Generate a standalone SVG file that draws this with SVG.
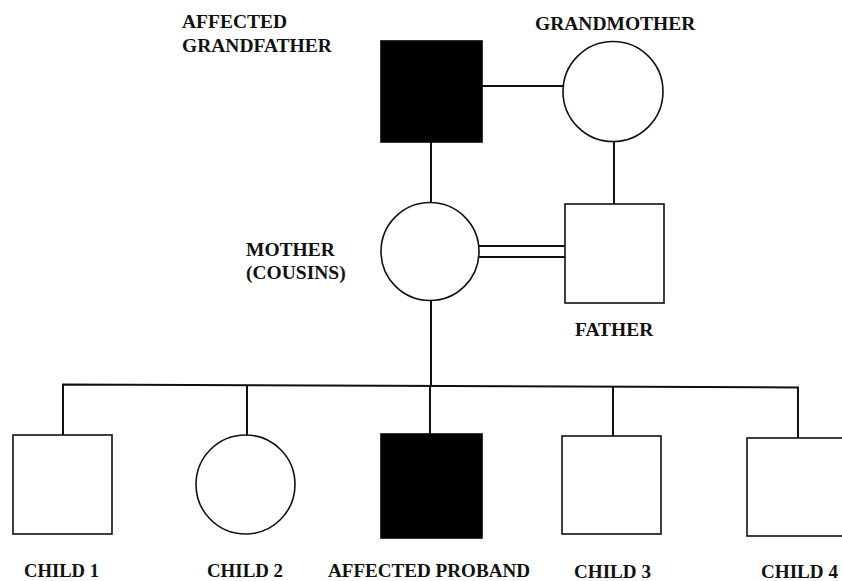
<svg xmlns="http://www.w3.org/2000/svg" width="842" height="581" viewBox="0 0 842 581">
<style>
.lbl{font-family:"Liberation Serif","Times New Roman","DejaVu Serif",serif;font-weight:bold;font-size:19.5px;fill:#111}
.sym{fill:#fff;stroke:#111;stroke-width:1.6}
.aff{fill:#000;stroke:#000;stroke-width:1.6}
.ln{stroke:#111;stroke-width:2;fill:none}
</style>
<rect width="842" height="581" fill="#fff"/>
<g id="connectors">
<line class="ln" x1="482" y1="86" x2="564" y2="86"/>
<line class="ln" x1="431" y1="142" x2="431" y2="203"/>
<line class="ln" x1="614" y1="141" x2="614" y2="204"/>
<line class="ln" x1="479" y1="246" x2="565" y2="246"/>
<line class="ln" x1="479" y1="257" x2="565" y2="257"/>
<line class="ln" x1="431" y1="301" x2="431" y2="385"/>
<polyline class="ln" points="63,435 63,384.5 798,387.5 798,439"/>
<line class="ln" x1="247" y1="385" x2="247" y2="435"/>
<line class="ln" x1="430" y1="385" x2="430" y2="434"/>
<line class="ln" x1="613" y1="386.5" x2="613" y2="436"/>
</g>
<g id="grandfather">
<rect class="aff" x="381" y="41" width="101" height="101"/>
<text class="lbl" x="182" y="28">AFFECTED</text>
<text class="lbl" x="182" y="52">GRANDFATHER</text>
</g>
<g id="grandmother">
<circle class="sym" cx="613" cy="91.5" r="50"/>
<text class="lbl" x="535" y="30">GRANDMOTHER</text>
</g>
<g id="mother">
<circle class="sym" cx="430" cy="251.5" r="49"/>
<text class="lbl" x="246" y="256">MOTHER</text>
<text class="lbl" x="246" y="279">(COUSINS)</text>
</g>
<g id="father">
<rect class="sym" x="565" y="204" width="99" height="99"/>
<text class="lbl" x="575" y="336">FATHER</text>
</g>
<g id="child1">
<rect class="sym" x="13" y="435" width="99" height="99"/>
<text class="lbl" x="24" y="577" textLength="75" lengthAdjust="spacingAndGlyphs">CHILD 1</text>
</g>
<g id="child2">
<circle class="sym" cx="245.5" cy="484.5" r="49.5"/>
<text class="lbl" x="207" y="577" textLength="76" lengthAdjust="spacingAndGlyphs">CHILD 2</text>
</g>
<g id="proband">
<rect class="aff" x="381" y="434" width="101" height="104"/>
<text class="lbl" x="328" y="577" textLength="202" lengthAdjust="spacingAndGlyphs">AFFECTED PROBAND</text>
</g>
<g id="child3">
<rect class="sym" x="562" y="436" width="99" height="98"/>
<text class="lbl" x="574" y="578" textLength="77" lengthAdjust="spacingAndGlyphs">CHILD 3</text>
</g>
<g id="child4">
<rect class="sym" x="747" y="438" width="110" height="98"/>
<text class="lbl" x="761" y="578" textLength="77" lengthAdjust="spacingAndGlyphs">CHILD 4</text>
</g>
</svg>
